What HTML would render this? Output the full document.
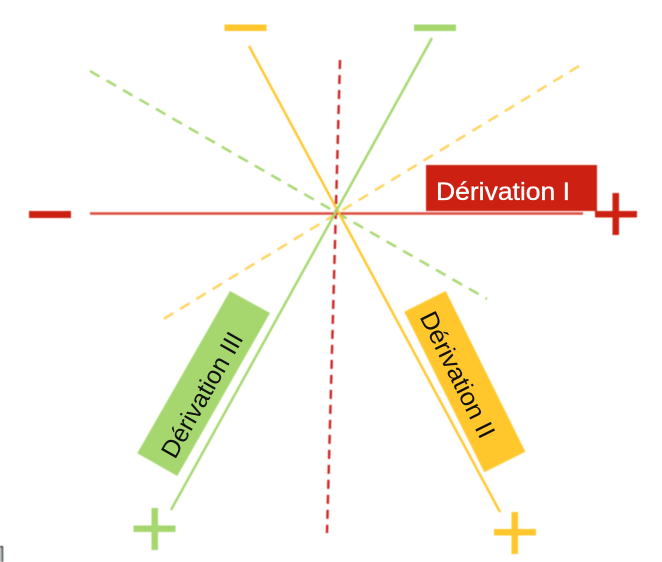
<!DOCTYPE html>
<html>
<head>
<meta charset="utf-8">
<style>
html,body{margin:0;padding:0;background:#fff;}
svg{display:block;}
text{font-family:"Liberation Sans",sans-serif;font-size:25px;}
</style>
</head>
<body>
<svg width="662" height="562" viewBox="0 0 662 562" xmlns="http://www.w3.org/2000/svg">
<g style="filter:blur(0.4px)">
  <!-- dashed axes -->
  <line x1="340" y1="60" x2="327" y2="533" stroke="#CC2222" stroke-width="2.4" stroke-dasharray="9 6"/>
  <line x1="90" y1="71" x2="487" y2="299" stroke="#A5D76E" stroke-width="2.4" stroke-dasharray="11 8"/>
  <line x1="579" y1="66" x2="162" y2="320" stroke="#FFD35A" stroke-width="2.4" stroke-dasharray="11 8"/>
  <!-- solid axes -->
  <line x1="90" y1="213.5" x2="583" y2="213.5" stroke="#DB4A3C" stroke-width="2.4"/>
  <line x1="249" y1="46" x2="500" y2="512" stroke="#FFC72C" stroke-width="2.4"/>
  <line x1="432" y1="38" x2="171" y2="510" stroke="#A5D76E" stroke-width="2.4"/>
  <!-- labels -->
  <rect x="426" y="165" width="171" height="46" fill="#CC2112"/>
  <polygon points="230,291 270,313 177.3,476 137.3,453.3" fill="#A5D76E"/>
  <polygon points="445.7,291 404.3,311.7 484.3,472.3 525.3,451.7" fill="#FFC72C"/>
  <!-- signs -->
  <rect x="29" y="211" width="42" height="7" fill="#CC2112"/>
  <rect x="595" y="211" width="42" height="6.5" fill="#CC2112"/>
  <rect x="612.5" y="193" width="6.5" height="42" fill="#CC2112"/>
  <rect x="224.5" y="24.5" width="42" height="6.5" fill="#FFC72C"/>
  <rect x="414" y="24.5" width="42" height="6.5" fill="#A5D76E"/>
  <rect x="133.5" y="525.5" width="42" height="6.5" fill="#A5D76E"/>
  <rect x="151.5" y="508" width="6.5" height="42" fill="#A5D76E"/>
  <rect x="494" y="529" width="42" height="6.5" fill="#FFC72C"/>
  <rect x="511.5" y="512" width="6.5" height="42" fill="#FFC72C"/>
  <rect x="0" y="547" width="2" height="15" fill="#aab3ae"/>
  <rect x="2" y="547" width="1.2" height="15" fill="#444"/>
  <rect x="0" y="546" width="3" height="1.4" fill="#333"/>
</g>
<text x="436" y="200" fill="#fff" stroke="#fff" stroke-width="0.35" textLength="134" lengthAdjust="spacingAndGlyphs">Dérivation I</text>
<text transform="translate(175 460) rotate(-60.5)" fill="#111" textLength="140" lengthAdjust="spacingAndGlyphs">Dérivation III</text>
<text transform="translate(419.3 316.7) rotate(63.6)" fill="#111" textLength="138" lengthAdjust="spacingAndGlyphs">Dérivation II</text>
</svg>
</body>
</html>
